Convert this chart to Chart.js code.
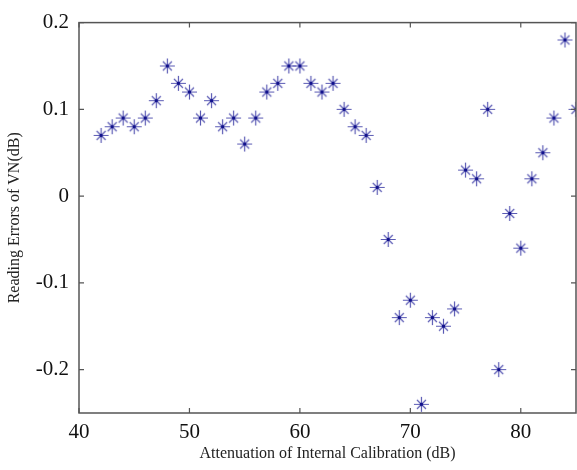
<!DOCTYPE html>
<html>
<head>
<meta charset="utf-8">
<script src="https://cdn.jsdelivr.net/npm/chart.js@4/dist/chart.umd.min.js"></script>
<style>
  html, body { margin: 0; padding: 0; background: #fff; }
  #wrap { width: 577px; height: 470px; }
</style>
</head>
<body>
<div id="wrap"><canvas id="errChart"></canvas></div>
<script>
// Attenuation setting (dB) and the reading error measured at each one
const attenuation = [42, 43, 44, 45, 46, 47, 48, 49, 50, 51, 52, 53, 54, 55, 56, 57, 58, 59, 60, 61, 62, 63,
    64, 65, 66, 67, 68, 69, 70, 71, 72, 73, 74, 75, 76, 77, 78, 79, 80, 81, 82, 83, 84, 85];
const readingErrors = [0.07, 0.08, 0.09, 0.08, 0.09, 0.11, 0.15, 0.13, 0.12, 0.09, 0.11, 0.08, 0.09, 0.06,
    0.09, 0.12, 0.13, 0.15, 0.15, 0.13, 0.12, 0.13, 0.10, 0.08, 0.07, 0.01, -0.05, -0.14, -0.12, -0.24,
    -0.14, -0.15, -0.13, 0.03, 0.02, 0.10, -0.20, -0.02, -0.06, 0.02, 0.05, 0.09, 0.18, 0.10];

const xTicks = [40, 50, 60, 70, 80];
const yTicks = [-0.2, -0.1, 0, 0.1, 0.2];
const yTickLabels = ['-0.2', '-0.1', '0', '0.1', '0.2'];

const serif = '"Liberation Serif", "Times New Roman", serif';

// asterisk marker: plus sign overlaid with a diagonal cross, dark dot in the middle
function makeAsterisk() {
    const c = document.createElement('canvas');
    c.width = 17; c.height = 17;
    const g = c.getContext('2d');
    g.strokeStyle = '#5a5ab4';
    g.lineWidth = 1.2;
    g.beginPath();
    g.moveTo(8.5, 1); g.lineTo(8.5, 16);
    g.moveTo(1, 8.5); g.lineTo(16, 8.5);
    g.moveTo(4, 4); g.lineTo(13, 13);
    g.moveTo(13, 4); g.lineTo(4, 13);
    g.stroke();
    g.fillStyle = '#12128c';
    g.fillRect(7, 7, 3, 3);
    return c;
}

// box around the plot with inward tick marks on all four sides
const frameTicks = {
    id: 'frameTicks',
    afterDraw(chart) {
        const { ctx, chartArea: a, scales } = chart;
        const len = 5;
        ctx.save();
        ctx.strokeStyle = '#555';
        ctx.lineWidth = 1.5;
        ctx.strokeRect(a.left, a.top, a.right - a.left, a.bottom - a.top);
        ctx.lineWidth = 1.2;
        ctx.beginPath();
        xTicks.forEach(v => {
            const px = scales.x.getPixelForValue(v);
            ctx.moveTo(px, a.bottom); ctx.lineTo(px, a.bottom - len);
            ctx.moveTo(px, a.top); ctx.lineTo(px, a.top + len);
        });
        yTicks.forEach(v => {
            const py = scales.y.getPixelForValue(v);
            ctx.moveTo(a.left, py); ctx.lineTo(a.left + len, py);
            ctx.moveTo(a.right, py); ctx.lineTo(a.right - len, py);
        });
        ctx.stroke();
        ctx.restore();
    }
};

new Chart(document.getElementById('errChart'), {
    type: 'scatter',
    data: {
        datasets: [{
            data: attenuation.map((x, i) => ({ x: x, y: readingErrors[i] })),
            pointStyle: makeAsterisk(),
            pointRadius: 8,
            borderColor: '#5a5ab4',
            backgroundColor: '#5a5ab4'
        }]
    },
    options: {
        responsive: true,
        maintainAspectRatio: false,
        animation: false,
        layout: { autoPadding: false, padding: { top: 18, right: 1, left: 0, bottom: 0 } },
        plugins: {
            legend: { display: false },
            tooltip: { enabled: false }
        },
        scales: {
            x: {
                type: 'linear',
                min: 40,
                max: 85,
                afterBuildTicks: s => { s.ticks = xTicks.map(v => ({ value: v })); },
                afterFit: s => { s.height = 57; },
                grid: { display: false, drawTicks: false },
                border: { display: false },
                ticks: {
                    padding: 7,
                    color: '#111',
                    font: { family: serif, size: 21 },
                    maxRotation: 0
                },
                title: {
                    display: true,
                    text: 'Attenuation of Internal Calibration (dB)',
                    color: '#222',
                    font: { family: serif, size: 16 },
                    padding: { top: 0, bottom: 7 }
                }
            },
            y: {
                min: -0.25,
                max: 0.2,
                afterBuildTicks: s => { s.ticks = yTicks.map(v => ({ value: v })); },
                afterFit: s => { s.width = 79; },
                grid: { display: false, drawTicks: false },
                border: { display: false },
                ticks: {
                    padding: 10,
                    color: '#111',
                    font: { family: serif, size: 21 },
                    callback: v => yTickLabels[yTicks.indexOf(v)] ?? ''
                },
                title: {
                    display: true,
                    text: 'Reading Errors of VN(dB)',
                    color: '#222',
                    font: { family: serif, size: 16 },
                    padding: { top: 5, bottom: 0 }
                }
            }
        }
    },
    plugins: [frameTicks]
});
</script>
</body>
</html>
